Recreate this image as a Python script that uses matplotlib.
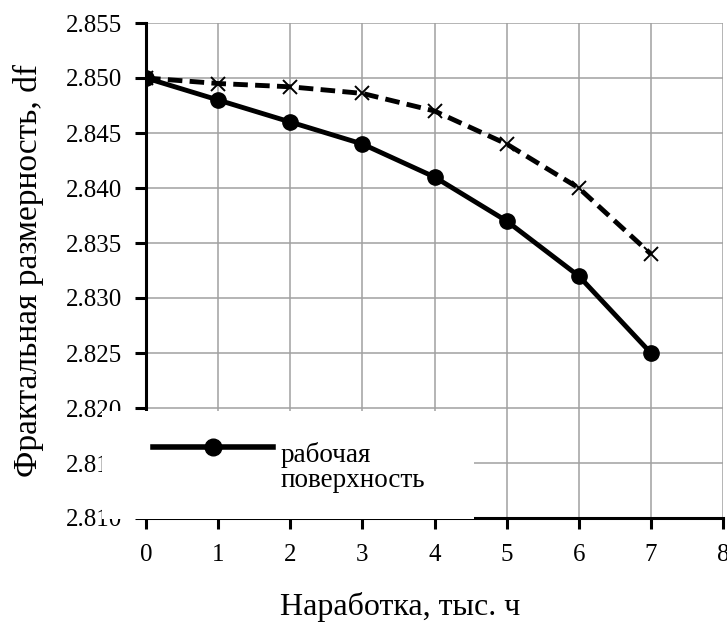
import matplotlib.pyplot as plt
from matplotlib.patches import Rectangle
from matplotlib.lines import Line2D

# data
hours = [0, 1, 2, 3, 4, 5, 6, 7]
df_work = [2.850, 2.848, 2.846, 2.844, 2.841, 2.837, 2.832, 2.825]
df_other = [2.850, 2.8495, 2.8492, 2.8486, 2.8470, 2.8440, 2.8400, 2.8340]
x_ticks = [0, 1, 2, 3, 4, 5, 6, 7, 8]
y_ticks = [2.810, 2.815, 2.820, 2.825, 2.830, 2.835, 2.840, 2.845, 2.850, 2.855]

plt.rcParams['font.family'] = ['Liberation Serif', 'DejaVu Serif']

W, H = 727, 622
fig = plt.figure(figsize=(W / 100, H / 100), dpi=100)
ax = fig.add_axes([146 / W, 1 - 518 / H, 577 / W, 495 / H])

ax.plot(hours, df_other, color='black', linestyle=(0, (3, 1.5)), linewidth=3.5,
        marker='x', markersize=10, markeredgewidth=1.4, zorder=3)
ax.plot(hours, df_work, color='black', linewidth=3.5,
        marker='o', markersize=11, zorder=4)

ax.set_xlim(0, 8)
ax.set_ylim(2.810, 2.855)
ax.set_xticks(x_ticks)
ax.set_yticks(y_ticks)
ax.set_yticklabels(['%.3f' % v for v in y_ticks])
ax.grid(True, color='#a0a0a0', linewidth=1.1)
ax.set_axisbelow(True)
for side in ['top', 'right']:
    ax.spines[side].set_visible(False)
ax.spines['left'].set_linewidth(2.2)
ax.spines['bottom'].set_linewidth(2.2)
ax.tick_params(axis='both', labelsize=18, width=2.2, length=8, direction='out')
ax.tick_params(axis='x', pad=11)
ax.tick_params(axis='y', pad=9)

ax.set_xlabel('Наработка, тыс. ч', fontsize=23, va='baseline')
ax.xaxis.set_label_coords((400 - 146) / 577, (518 - 615) / 495)
ax.set_ylabel('Фрактальная размерность, df', fontsize=24, va='center')
ax.yaxis.set_label_coords((28 - 146) / 577, 0.5)

# legend box (clipped in the original, only one entry is visible)
fig.add_artist(Rectangle((102 / W, 1 - 518.5 / H), 372 / W, 107.5 / H,
                         transform=fig.transFigure, facecolor='white',
                         edgecolor='none', zorder=5))
fig.add_artist(Line2D([153 / W, 273 / W], [1 - 447 / H, 1 - 447 / H],
                      transform=fig.transFigure, color='black', linewidth=4,
                      zorder=6))
fig.add_artist(Line2D([213 / W], [1 - 447 / H], transform=fig.transFigure,
                      color='black', marker='o', markersize=12, zorder=7))
fig.text(281 / W, 1 - 442 / H, 'рабочая\nповерхность', fontsize=19.5,
         va='top', ha='left', linespacing=1.0, zorder=7)

fig.savefig('out.png', dpi=100)
